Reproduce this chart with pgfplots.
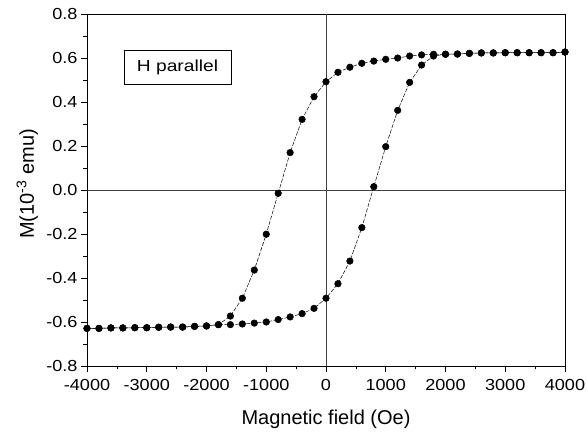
\documentclass[border=0pt]{standalone}
\usepackage{fontspec}
\setmainfont{Liberation Sans}
\usepackage{graphicx}
\usepackage{pgfplots}
\pgfplotsset{compat=1.18}
\begin{document}
\begin{tikzpicture}
\useasboundingbox (0,0) rectangle (587pt,434pt);
\begin{axis}[
  at={(87pt,68pt)}, anchor=south west,
  scale only axis, width=478pt, height=352pt,
  xmin=-4000, xmax=4000, ymin=-0.8, ymax=0.8,
  xtick={-4000,-3000,...,4000},
  ytick={-0.8,-0.6,...,0.81},
  minor x tick num=1, minor y tick num=1,
  tick align=outside,
  xtick pos=bottom, ytick pos=left,
  major tick length=6pt, minor tick length=3.5pt,
  axis line style={line width=0.8pt},
  every tick/.style={black, line width=0.6pt},
  /pgf/number format/assume math mode=true,
  xticklabel={\scalebox{1.13}[1]{\pgfmathprintnumber[1000 sep={}]{\tick}}},
  yticklabel={\scalebox{1.13}[1]{\pgfmathprintnumber[fixed,fixed zerofill,precision=1]{\tick}}},
  x tick label style={yshift=-4pt},
  tick label style={font=\fontsize{16}{18}\selectfont},
  xlabel={Magnetic field (Oe)},
  ylabel={M(10\textsuperscript{-3} emu)},
  label style={font=\fontsize{20}{22}\selectfont},
  xlabel style={at={(axis description cs:0.5,-0.1676)}, anchor=base},
  ylabel style={at={(axis description cs:-0.1109,0.517)}, anchor=base},
  clip=false,
]
\draw[black!75, line width=0.8pt] (axis cs:0,-0.8) -- (axis cs:0,0.8);
\draw[black!75, line width=0.8pt] (axis cs:-4000,0) -- (axis cs:4000,0);
\addplot[black, line width=0.5pt, dash pattern=on 4pt off 1.5pt,
  mark=*, mark size=3.3pt, mark options={solid, fill=black}] coordinates {
(4000,0.627) (3800,0.624) (3600,0.624) (3400,0.624) (3200,0.624) (3000,0.624)
(2800,0.623) (2600,0.623) (2400,0.621) (2200,0.618) (2000,0.617) (1800,0.617)
(1600,0.614) (1400,0.609) (1200,0.600) (1000,0.594) (800,0.586) (600,0.576)
(400,0.558) (200,0.535) (0,0.492) (-200,0.424) (-400,0.321) (-600,0.170)
(-800,-0.015) (-1000,-0.201) (-1200,-0.364) (-1400,-0.492) (-1600,-0.573)
(-1800,-0.612) (-2000,-0.618) (-2200,-0.620) (-2400,-0.623) (-2600,-0.623)
(-2800,-0.624) (-3000,-0.626) (-3200,-0.626) (-3400,-0.627) (-3600,-0.627)
(-3800,-0.629) (-4000,-0.629)
};
\addplot[black, line width=0.5pt, dash pattern=on 4pt off 1.5pt,
  mark=*, mark size=3.3pt, mark options={solid, fill=black}] coordinates {
(-4000,-0.629) (-3800,-0.629) (-3600,-0.627) (-3400,-0.627) (-3200,-0.626)
(-3000,-0.626) (-2800,-0.624) (-2600,-0.623) (-2400,-0.623) (-2200,-0.620)
(-2000,-0.618) (-1800,-0.612) (-1600,-0.612) (-1400,-0.609) (-1200,-0.605)
(-1000,-0.600) (-800,-0.589) (-600,-0.577) (-400,-0.562) (-200,-0.538)
(0,-0.492) (200,-0.426) (400,-0.323) (600,-0.171) (800,0.015) (1000,0.197)
(1200,0.362) (1400,0.489) (1600,0.568) (1800,0.609) (2000,0.617) (2200,0.618)
(2400,0.621) (2600,0.623) (2800,0.623) (3000,0.624) (3200,0.624) (3400,0.624)
(3600,0.624) (3800,0.624) (4000,0.627)
};
\node[draw=black, line width=0.6pt, minimum width=106.7pt, minimum height=34.3pt,
  inner sep=0pt, font=\fontsize{16}{18}\selectfont]
  at (axis cs:-2485,0.558) {\scalebox{1.2}[1]{H parallel}};
\end{axis}
\end{tikzpicture}
\end{document}
